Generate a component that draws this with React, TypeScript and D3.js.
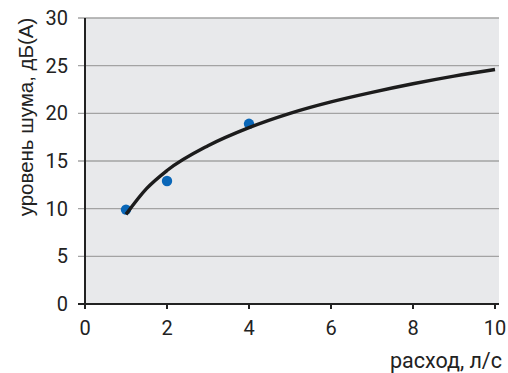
import React from "react";
import * as d3 from "d3";

const pointX = [1, 2, 4];
const pointY = [9.9, 12.9, 18.9];
const curveX = [1, 1.5, 2, 3, 4, 5, 6, 7, 8, 9, 10];
const curveY = [9.4, 12.1, 14.0, 16.6, 18.5, 20.0, 21.2, 22.2, 23.1, 23.9, 24.6];
const xTicks = [0, 2, 4, 6, 8, 10];
const yTicks = [0, 5, 10, 15, 20, 25, 30];
const xLabel = "расход, л/с";
const yLabel = "уровень шума, дБ(А)";

export default function App() {
  const W = 508, H = 373;
  const x = d3.scaleLinear().domain([0, 10]).range([85, 495]);
  const y = d3.scaleLinear().domain([0, 30]).range([304, 18]);
  const line = d3.line<number>().x((_, i) => x(curveX[i])).y((d) => y(d)).curve(d3.curveMonotoneX);
  const font = "Roboto, sans-serif";
  return (
    <svg width={W} height={H} style={{ position: "absolute", left: 0, top: 0 }}>
      <rect x={85} y={18} width={414} height={286} fill="#e8e9eb" />
      {yTicks.map((t) => (
        <line key={"g" + t} x1={78} x2={499} y1={y(t)} y2={y(t)} stroke={t === 0 ? "#222" : "#a3a3a3"} strokeWidth={t === 0 ? 2 : 1.3} />
      ))}
      <line x1={85} x2={85} y1={18} y2={309} stroke="#222" strokeWidth={2} />
      {xTicks.map((t) => (
        <line key={"xt" + t} x1={x(t)} x2={x(t)} y1={304} y2={309} stroke="#222" strokeWidth={2} />
      ))}
      {yTicks.map((t) => (
        <text key={"yl" + t} x={68} y={y(t) + 7} textAnchor="end" fontFamily={font} fontSize={20} fill="#222">{t}</text>
      ))}
      {xTicks.map((t) => (
        <text key={"xl" + t} x={x(t)} y={335} textAnchor="middle" fontFamily={font} fontSize={20} fill="#222">{t}</text>
      ))}
      <text x={502} y={368} textAnchor="end" fontFamily={font} fontSize={21.5} fill="#222">{xLabel}</text>
      <text transform="translate(33,117) rotate(-90)" textAnchor="middle" fontFamily="'Liberation Sans', Arial, sans-serif" fontSize={20.5} fill="#222">{yLabel}</text>
      {pointX.map((px, i) => (
        <circle key={"p" + i} cx={x(px)} cy={y(pointY[i])} r={5.2} fill="#0a67b8" />
      ))}
      <path d={line(curveY) || ""} fill="none" stroke="#1c1c1c" strokeWidth={3.4} />
    </svg>
  );
}
